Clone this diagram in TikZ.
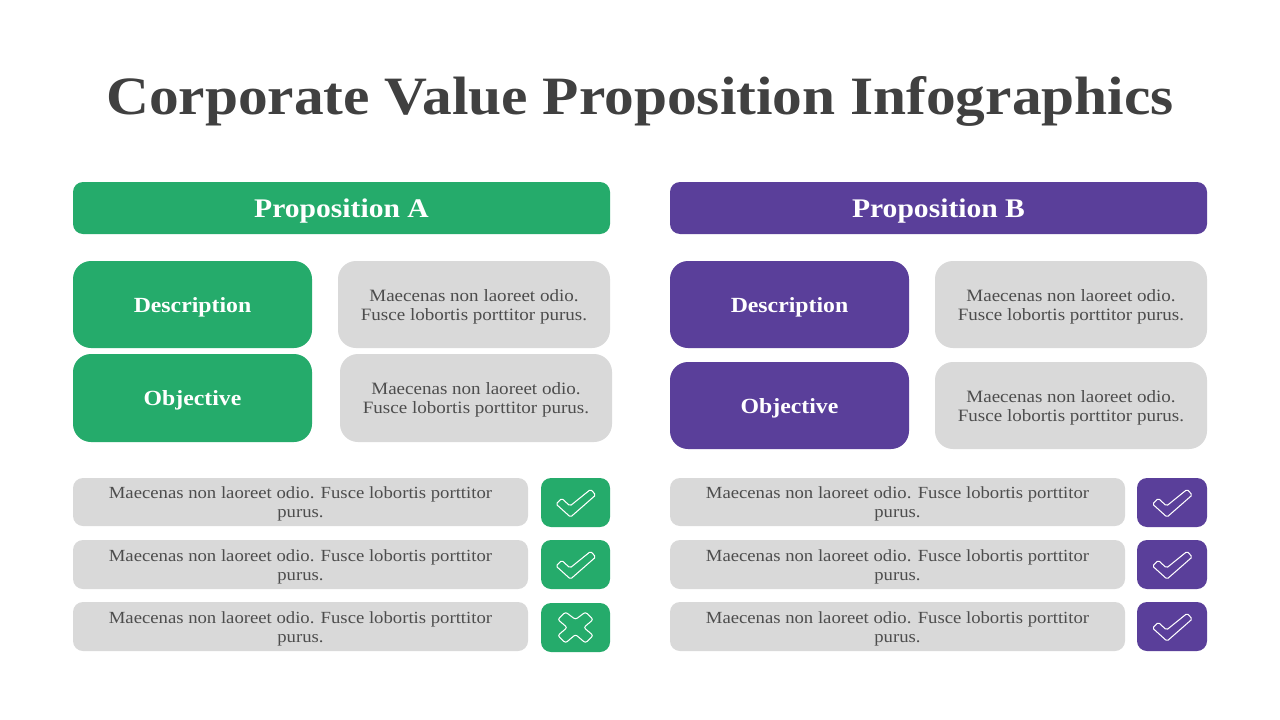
\documentclass[tikz,border=0pt]{standalone}
\usepackage{fontspec}
\setmainfont[FakeStretch=1.1]{Liberation Serif}
\definecolor{cgreen}{HTML}{25AB6B}
\definecolor{cpurple}{HTML}{5A3F9A}
\definecolor{cgray}{HTML}{D9D9D9}
\definecolor{ctitle}{HTML}{404040}
\definecolor{cbody}{HTML}{4D4D4D}
\tikzset{
  x=1pt,y=-1pt,
  rbox/.style={anchor=north west,inner sep=0pt,outer sep=0pt,align=center},
  banner/.style={rbox,rounded corners=10pt,text=white,text height=20pt,text depth=2pt,font=\fontsize{26.9}{30}\selectfont\bfseries},
  labelbox/.style={rbox,rounded corners=18pt,text=white,minimum width=239pt,text height=17pt,text depth=2pt,font=\fontsize{21.6}{24}\selectfont\bfseries},
  infobox/.style={rbox,rounded corners=18pt,fill=cgray,text=cbody,minimum width=272pt,text height=33pt,text depth=2pt,font=\fontsize{17.3}{19}\selectfont},
  rowbox/.style={rbox,rounded corners=10pt,fill=cgray,text=cbody,minimum width=455pt,text height=33pt,text depth=2pt,font=\fontsize{17}{19}\selectfont},
  iconbox/.style={rbox,rounded corners=10pt,minimum width=69pt},
  iconline/.style={draw=white,line width=1.05pt,rounded corners=1.6pt,fill=none},
}
\newcommand{\tickmark}[1]{\draw[iconline,shift={(#1.center)}]
  (-13.8,-4.2) -- (-5.5,3.5) -- (15.2,-13.2) -- (20.2,-7.5) -- (-5,14.6) -- (-19.5,1.5) -- cycle;}
\newcommand{\crossmark}[1]{\draw[iconline,rounded corners=2.2pt,shift={(#1.center)}]
  (-17.7,-8) -- (-10,-15.5) -- (0,-8) -- (10,-15.5) -- (17.7,-8) -- (8.3,0) -- (17.7,8) -- (10,15.5) -- (0,7) -- (-10,15.5) -- (-17.7,8) -- (-8.3,0) -- cycle;}
\newcommand{\msgtwo}{Maecenas non laoreet odio.\\Fusce lobortis porttitor purus.}
\newcommand{\msgrow}{Maecenas non laoreet odio. Fusce lobortis porttitor\\purus.}
\begin{document}
\begin{tikzpicture}
\useasboundingbox (0,0) rectangle (1280,720);
\fill[white] (0,0) rectangle (1280,720);
\node[anchor=base,inner sep=0pt,text=ctitle,font=\fontsize{54}{58}\selectfont\bfseries] (title) at (640,114) {Corporate Value Proposition Infographics};
% left column
\node[banner,fill=cgreen,minimum width=537pt,minimum height=52pt] (hA) at (73,182) {Proposition A};
\node[labelbox,fill=cgreen,minimum height=87pt] (dA) at (73,261) {Description};
\node[infobox,minimum height=87pt] (diA) at (338,261) {\msgtwo};
\node[labelbox,fill=cgreen,minimum height=88pt] (oA) at (73,354) {Objective};
\node[infobox,minimum height=88pt] (oiA) at (340,354) {\msgtwo};
\node[rowbox,minimum height=48pt] (r1A) at (73,478) {\msgrow};
\node[rowbox,minimum height=49pt] (r2A) at (73,540) {\msgrow};
\node[rowbox,minimum height=49pt] (r3A) at (73,602) {\msgrow};
\node[iconbox,fill=cgreen,minimum height=49pt] (i1A) at (541,478) {};
\node[iconbox,fill=cgreen,minimum height=49pt] (i2A) at (541,540) {};
\node[iconbox,fill=cgreen,minimum height=49pt] (i3A) at (541,603) {};
\tickmark{i1A}\tickmark{i2A}\crossmark{i3A}
% right column
\node[banner,fill=cpurple,minimum width=537pt,minimum height=52pt] (hB) at (670,182) {Proposition B};
\node[labelbox,fill=cpurple,minimum height=87pt] (dB) at (670,261) {Description};
\node[infobox,minimum height=87pt] (diB) at (935,261) {\msgtwo};
\node[labelbox,fill=cpurple,minimum height=87pt] (oB) at (670,362) {Objective};
\node[infobox,minimum height=87pt] (oiB) at (935,362) {\msgtwo};
\node[rowbox,minimum height=48pt] (r1B) at (670,478) {\msgrow};
\node[rowbox,minimum height=49pt] (r2B) at (670,540) {\msgrow};
\node[rowbox,minimum height=49pt] (r3B) at (670,602) {\msgrow};
\node[iconbox,fill=cpurple,minimum width=70pt,minimum height=49pt] (i1B) at (1137,478) {};
\node[iconbox,fill=cpurple,minimum width=70pt,minimum height=49pt] (i2B) at (1137,540) {};
\node[iconbox,fill=cpurple,minimum width=70pt,minimum height=49pt] (i3B) at (1137,602) {};
\tickmark{i1B}\tickmark{i2B}\tickmark{i3B}
\end{tikzpicture}
\end{document}
